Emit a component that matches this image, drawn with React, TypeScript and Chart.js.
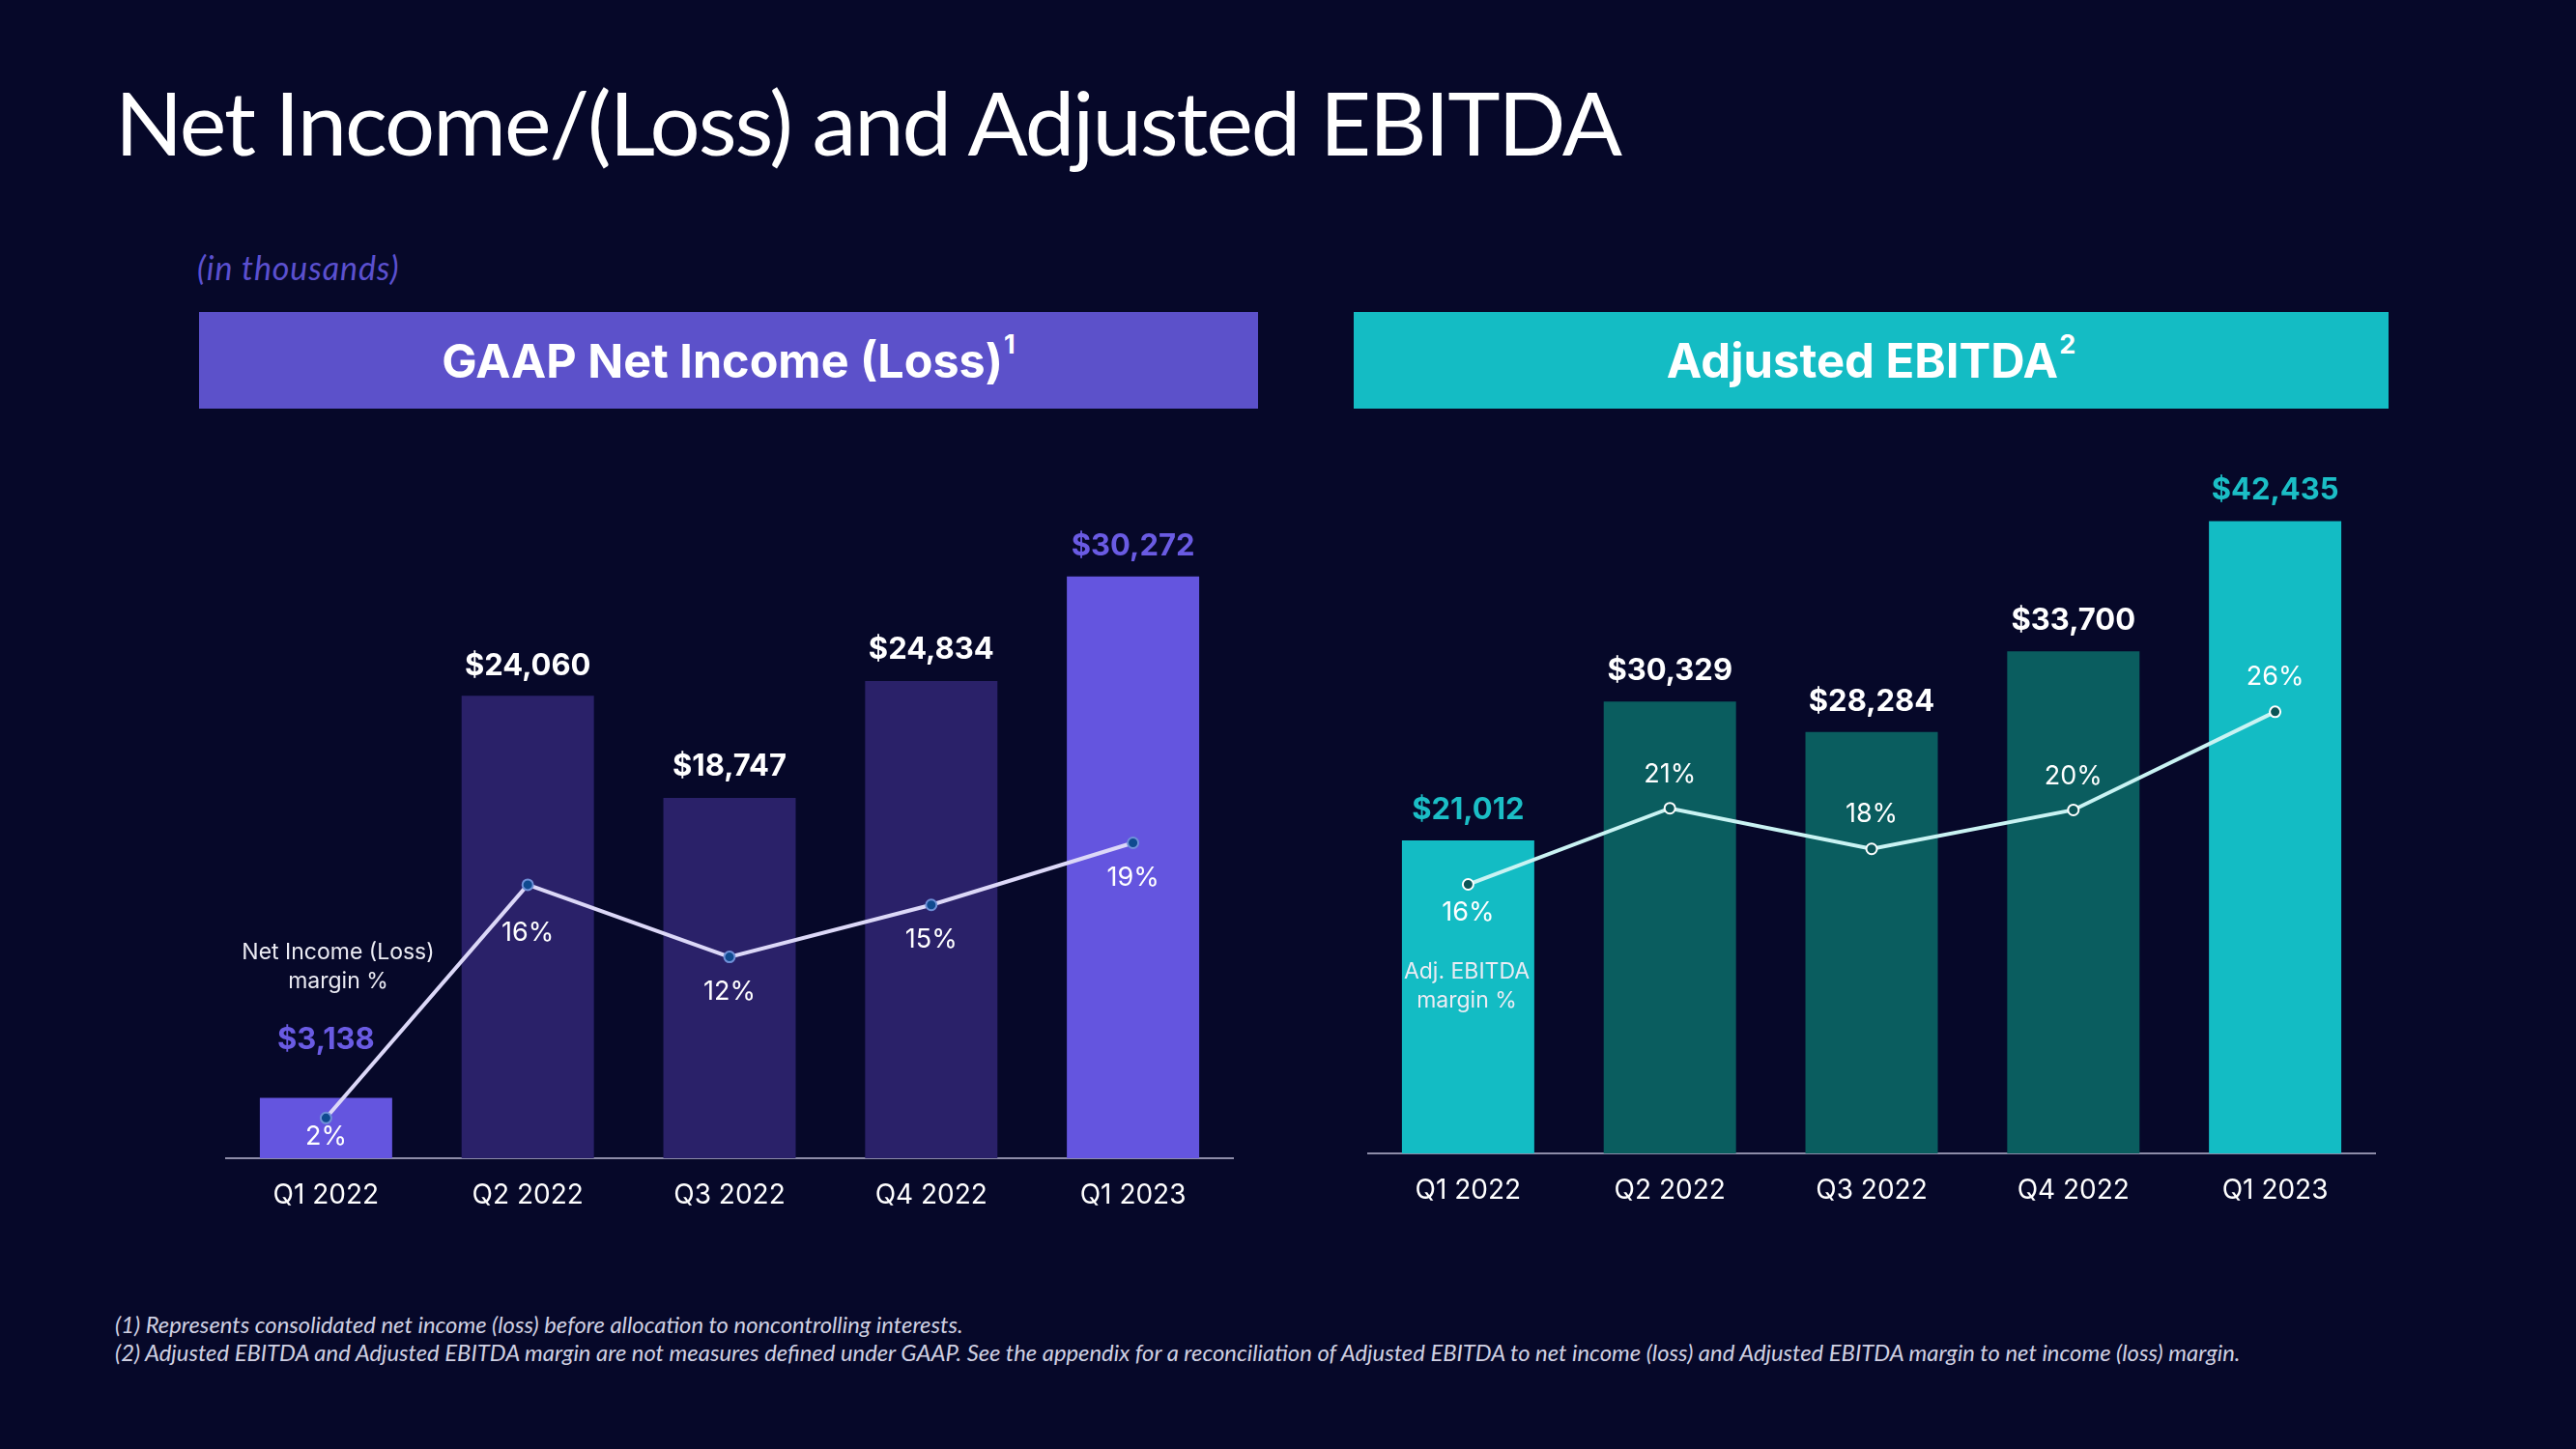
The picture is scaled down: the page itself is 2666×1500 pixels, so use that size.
import React, { useEffect, useRef } from "react";
import { Chart, registerables } from "chart.js";

Chart.register(...registerables);

// ---------- data ----------
const categories = ["Q1 2022", "Q2 2022", "Q3 2022", "Q4 2022", "Q1 2023"];
const netIncome = [3138, 24060, 18747, 24834, 30272];
const netIncomeMargin = [2.4, 16.3, 12.0, 15.1, 18.8];
const netIncomeMarginLabels = ["2%", "16%", "12%", "15%", "19%"];
const adjEbitda = [21012, 30329, 28284, 33700, 42435];
const adjEbitdaMargin = [15.9, 20.4, 18.0, 20.3, 26.1];
const adjEbitdaMarginLabels = ["16%", "21%", "18%", "20%", "26%"];

const FONT = "Inter, 'Noto Sans', sans-serif";
const BG = "#060829";

type Cfg = {
  values: number[];
  margins: number[];
  marginLabels: string[];
  barColors: string[];
  valueColors: string[];
  valueOffsets: number[];
  pctOffsets: number[];
  lineColor: string;
  pointBg: string;
  pointBorder: string;
  yMax: number;
  y1Max: number;
  width: number;
  height: number;
};

const fmt = (v: number) => "$" + v.toLocaleString("en-US");

function BarLineChart(props: Cfg) {
  const ref = useRef<HTMLCanvasElement | null>(null);
  useEffect(() => {
    if (!ref.current) return;
    const p = props;
    const labelPlugin = {
      id: "valueLabels",
      afterDatasetsDraw(chart: any) {
        const ctx = chart.ctx;
        const barMeta = chart.getDatasetMeta(0);
        const lineMeta = chart.getDatasetMeta(1);
        ctx.save();
        ctx.textAlign = "center";
        ctx.textBaseline = "middle";
        barMeta.data.forEach((el: any, i: number) => {
          ctx.font = `700 31px ${FONT}`;
          ctx.fillStyle = p.valueColors[i];
          ctx.fillText(fmt(p.values[i]), el.x, el.y - p.valueOffsets[i]);
        });
        lineMeta.data.forEach((el: any, i: number) => {
          ctx.font = `400 27px ${FONT}`;
          ctx.fillStyle = "#ffffff";
          ctx.fillText(p.marginLabels[i], el.x, el.y + p.pctOffsets[i]);
        });
        ctx.restore();
      },
    };
    const chart = new Chart(ref.current, {
      type: "bar",
      data: {
        labels: categories,
        datasets: [
          {
            type: "bar",
            data: p.values,
            backgroundColor: p.barColors,
            borderWidth: 0,
            barPercentage: 0.656,
            categoryPercentage: 1,
            yAxisID: "y",
            order: 2,
          } as any,
          {
            type: "line",
            data: p.margins,
            borderColor: p.lineColor,
            borderWidth: 4,
            pointRadius: 5.5,
            pointBackgroundColor: p.pointBg,
            pointBorderColor: p.pointBorder,
            pointBorderWidth: 2,
            tension: 0,
            yAxisID: "y1",
            order: 1,
          } as any,
        ],
      },
      options: {
        animation: false,
        responsive: false,
        maintainAspectRatio: false,
        layout: { padding: 0, autoPadding: false },
        plugins: { legend: { display: false }, tooltip: { enabled: false } },
        scales: {
          x: {
            type: "category",
            offset: true,
            grid: { display: false, drawTicks: false },
            border: { display: true, color: "#8d8ca8", width: 2 },
            ticks: {
              color: "#ffffff",
              font: { family: FONT, size: 28, weight: "400" },
              padding: 22,
            },
            afterFit: (scale: any) => {
              scale.height = 70;
            },
          },
          y: { display: false, min: 0, max: p.yMax },
          y1: { display: false, min: 0, max: p.y1Max },
        },
      } as any,
      plugins: [labelPlugin],
    });
    return () => chart.destroy();
  }, []);
  return <canvas ref={ref} width={props.width} height={props.height} style={{ display: "block" }} />;
}

export default function App() {
  const abs = (s: React.CSSProperties): React.CSSProperties => ({ position: "absolute", ...s });
  return (
    <div
      style={{
        position: "fixed",
        left: 0,
        top: 0,
        width: 2666,
        height: 1500,
        background: BG,
        overflow: "hidden",
        fontFamily: FONT,
        color: "#ffffff",
      }}
    >
      <div
        style={abs({
          left: 119,
          top: 80,
          fontFamily: "Lato, sans-serif",
          fontWeight: 400,
          fontSize: 92,
          lineHeight: 1,
          whiteSpace: "nowrap",
          letterSpacing: -2,
        })}
      >
        Net Income/(Loss) and Adjusted EBITDA
      </div>
      <div
        style={abs({
          left: 204,
          top: 257,
          fontFamily: "Lato, sans-serif",
          fontStyle: "italic",
          fontSize: 34,
          letterSpacing: 0.9,
          lineHeight: "40px",
          color: "#5b50cf",
        })}
      >
        (in thousands)
      </div>

      {/* headers */}
      <div
        style={abs({
          left: 206,
          top: 323,
          width: 1096,
          height: 100,
          background: "#5c51ca",
          display: "flex",
          alignItems: "center",
          justifyContent: "center",
          fontWeight: 700,
          fontSize: 48.5,
          letterSpacing: 0,
        })}
      >
        <span>
          GAAP Net Income (Loss)
          <sup style={{ fontSize: 27, verticalAlign: "top", position: "relative", top: -4, marginLeft: 1 }}>1</sup>
        </span>
      </div>
      <div
        style={abs({
          left: 1401,
          top: 323,
          width: 1071,
          height: 100,
          background: "#14bcc4",
          display: "flex",
          alignItems: "center",
          justifyContent: "center",
          fontWeight: 700,
          fontSize: 49,
          letterSpacing: 0,
        })}
      >
        <span>
          Adjusted EBITDA
          <sup style={{ fontSize: 27, verticalAlign: "top", position: "relative", top: -4, marginLeft: 1 }}>2</sup>
        </span>
      </div>

      {/* charts */}
      <div style={abs({ left: 233, top: 440 })}>
        <BarLineChart
          values={netIncome}
          margins={netIncomeMargin}
          marginLabels={netIncomeMarginLabels}
          barColors={["#6455df", "#2a2169", "#2a2169", "#2a2169", "#6455df"]}
          valueColors={["#6a5be3", "#ffffff", "#ffffff", "#ffffff", "#6a5be3"]}
          valueOffsets={[60, 31, 32, 32, 31]}
          pctOffsets={[20, 50, 36, 36, 36]}
          lineColor="#dcd8f8"
          pointBg="#0f4a8f"
          pointBorder="#6f90d8"
          yMax={38150}
          y1Max={43.7}
          width={1044}
          height={829}
        />
      </div>
      <div style={abs({ left: 1415, top: 440 })}>
        <BarLineChart
          values={adjEbitda}
          margins={adjEbitdaMargin}
          marginLabels={adjEbitdaMarginLabels}
          barColors={["#13bcc4", "#0a5d5f", "#0a5d5f", "#0a5d5f", "#13bcc4"]}
          valueColors={["#1bbec6", "#ffffff", "#ffffff", "#ffffff", "#1bbec6"]}
          valueOffsets={[31, 31, 31, 31, 32]}
          pctOffsets={[29, -35, -36, -35, -36]}
          lineColor="#c9f3f3"
          pointBg="#0b5557"
          pointBorder="#ffffff"
          yMax={48880}
          y1Max={43.05}
          width={1044}
          height={824}
        />
      </div>

      {/* annotations */}
      <div
        style={abs({
          left: 250,
          top: 970,
          width: 200,
          textAlign: "center",
          fontSize: 23,
          lineHeight: "30px",
          color: "#ececf4",
        })}
      >
        Net Income (Loss)
        <br />
        margin %
      </div>
      <div
        style={abs({
          left: 1418,
          top: 990,
          width: 200,
          textAlign: "center",
          fontSize: 23,
          lineHeight: "30px",
          color: "#ececf4",
        })}
      >
        Adj. EBITDA
        <br />
        margin %
      </div>

      {/* footnotes */}
      <div
        style={abs({
          left: 119,
          top: 1357,
          fontFamily: "Lato, sans-serif",
          fontStyle: "italic",
          fontSize: 23.8,
          lineHeight: "29px",
          color: "#cfd0e2",
          whiteSpace: "nowrap",
        })}
      >
        (1) Represents consolidated net income (loss) before allocation to noncontrolling interests.
        <br />
        (2) Adjusted EBITDA and Adjusted EBITDA margin are not measures defined under GAAP. See the appendix for a
        reconciliation of Adjusted EBITDA to net income (loss) and Adjusted EBITDA margin to net income (loss) margin.
      </div>
    </div>
  );
}
